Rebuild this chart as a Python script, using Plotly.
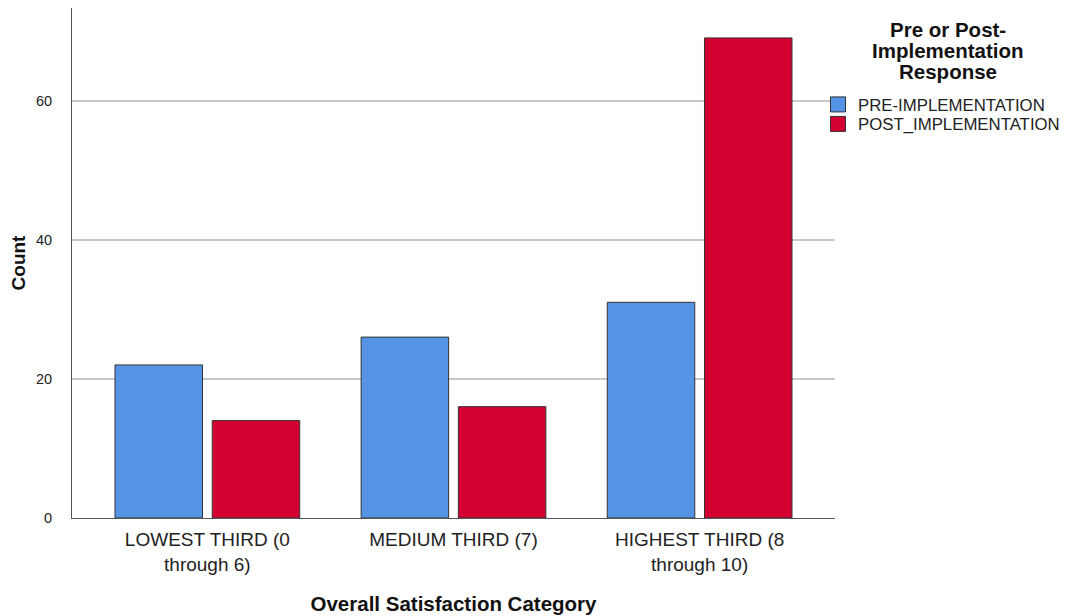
import plotly.graph_objects as go

categories = ["LOWEST THIRD (0<br>through 6)", "MEDIUM THIRD (7)", "HIGHEST THIRD (8<br>through 10)"]
pre_values = [22, 26, 31]
post_values = [14, 16, 69]
series_names = ["PRE-IMPLEMENTATION", "POST_IMPLEMENTATION"]
series_colors = ["#5594E4", "#D50032"]
legend_title_lines = ["Pre or Post-", "Implementation", "Response"]
y_ticks = [0, 20, 40, 60]

FONT = "Arial, Liberation Sans, sans-serif"
EDGE = "#333333"

# plot area: 763 px wide (page x 72..835), 510 px tall (page y 8..518)
W_PLOT, H_PLOT = 763, 510
legend_ids = ["legend", "legend2"]
legend_tops = [87, 106.5]

fig = go.Figure()
for name, vals, col, lid in zip(series_names, [pre_values, post_values], series_colors, legend_ids):
    fig.add_trace(go.Bar(x=categories, y=vals, name=name, showlegend=False,
                         marker=dict(color=col, line=dict(color=EDGE, width=1))))
    # legend-only entry with a larger square swatch
    fig.add_trace(go.Scatter(x=[None], y=[None], mode="markers", name=name, legend=lid,
                             marker=dict(symbol="square", size=15, color=col,
                                         line=dict(color=EDGE, width=1))))

for i, line in enumerate(legend_title_lines):
    fig.add_annotation(
        text=f"<b>{line}</b>", xref="paper", yref="paper",
        x=(948 - 72) / W_PLOT, y=(518 - (30 + 20.5 * i)) / H_PLOT,
        xanchor="center", yanchor="middle", showarrow=False,
        font=dict(size=20.5, color="#111111", family=FONT),
    )

legend_common = dict(
    x=(818 - 72) / W_PLOT, xanchor="left", yanchor="top",
    font=dict(size=16.8, color="#222222"),
    itemwidth=30, bgcolor="rgba(0,0,0,0)",
)

fig.update_layout(
    width=1067, height=616,
    margin=dict(l=64, r=240, t=0, b=106),
    paper_bgcolor="white", plot_bgcolor="white",
    barmode="group", bargap=0.21, bargroupgap=0.10,
    font=dict(family=FONT, color="#222222"),
    legend=dict(y=(518 - legend_tops[0]) / H_PLOT, **legend_common),
    legend2=dict(y=(518 - legend_tops[1]) / H_PLOT, **legend_common),
    showlegend=True,
)
fig.update_xaxes(
    range=[-0.55, 2.55], showline=True, linecolor="#555555", linewidth=1,
    showgrid=False, ticks="", tickfont=dict(size=19, color="#222222"), ticklabelstandoff=4,
    title=dict(text="<b>Overall Satisfaction Category</b>", font=dict(size=20.5, color="#111111"), standoff=23),
)
fig.update_yaxes(
    range=[0, 73.3], tickvals=y_ticks, showline=True, linecolor="#555555", linewidth=1,
    showgrid=True, gridcolor="#C8C8C8", gridwidth=1.5, zeroline=False, ticks="",
    tickfont=dict(size=14.5, color="#222222"), ticklabelstandoff=16,
    title=dict(text="<b>Count</b>", font=dict(size=19, color="#111111"), standoff=14),
)

fig.write_html("out.html")
